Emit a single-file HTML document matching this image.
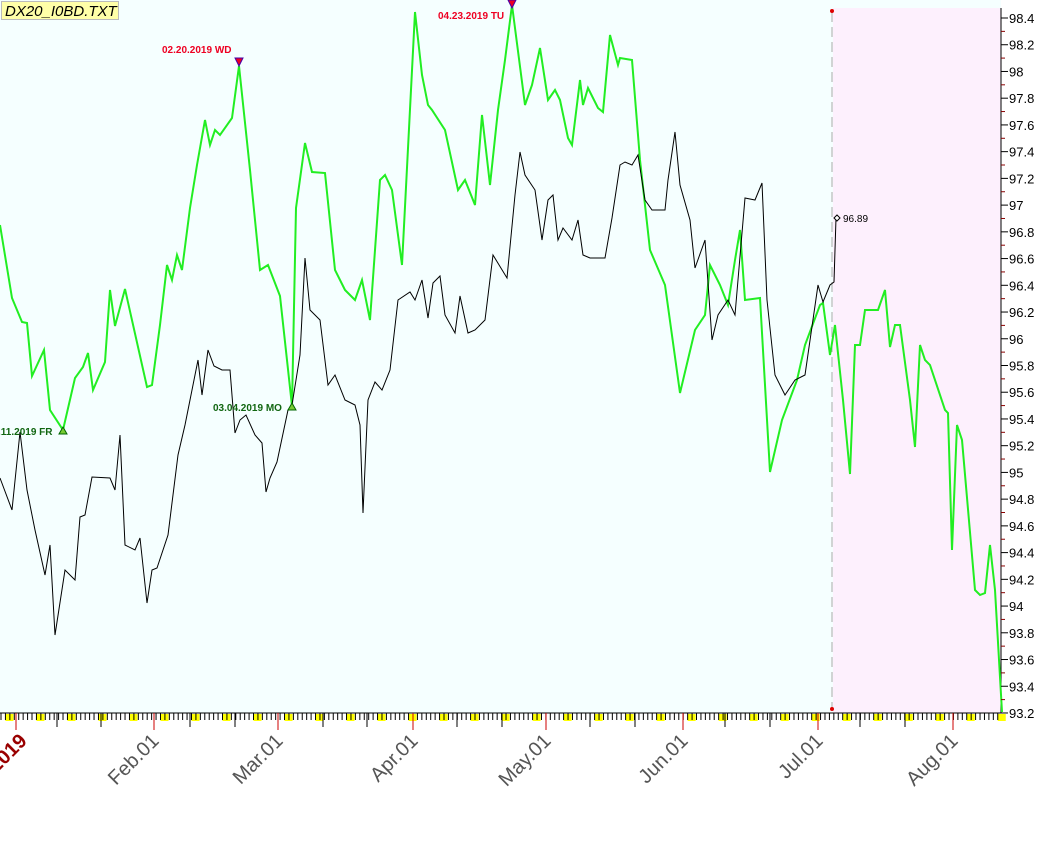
<!DOCTYPE html>
<html><head><meta charset="utf-8"><style>
html,body{margin:0;padding:0;background:#fff;}
svg{display:block;font-family:"Liberation Sans",sans-serif;}
</style></head><body>
<svg id="s" width="1063" height="849" xmlns="http://www.w3.org/2000/svg">
<rect x="0" y="0" width="1001" height="713" fill="#f5ffff"/>
<rect x="833" y="8" width="168" height="705" fill="#fdf0fd"/>
<line x1="832" y1="12" x2="832" y2="708" stroke="#aaa" stroke-dasharray="10,5"/>
<circle cx="832" cy="11" r="2" fill="#d00"/><circle cx="832" cy="709" r="2" fill="#d00"/>
<line x1="1001" y1="8" x2="1001" y2="713" stroke="#000"/>
<line x1="0" y1="713" x2="1001" y2="713" stroke="#000"/>
<g id="ticks"></g>
<polyline fill="none" stroke="#22ee22" stroke-width="2" points="0,225 12,298 22,322 27,323 32,376 44,350 50,410 63,430 75,378 83,367 88,353 93,390 105,362 110,290 115,326 125,289 147,387 152,385 160,325 167,265 172,280 177,255 182,270 190,208 197,165 205,120 210,145 215,130 220,135 232,118 239,66 250,170 260,270 268,265 280,296 292,406 296,208 305,143 312,172 325,173 335,270 345,290 355,300 362,280 370,320 380,180 385,175 392,190 402,265 415,12 422,75 428,105 432,110 445,130 458,190 465,180 475,205 482,115 490,185 498,110 505,60 512,5 525,105 532,85 540,48 548,100 555,90 560,100 568,138 572,145 580,80 583,105 588,88 598,108 603,112 610,35 618,65 620,58 632,60 640,160 650,250 665,285 680,393 695,330 705,315 710,265 720,285 728,305 735,260 740,230 745,300 760,298 770,472 782,420 797,380 805,345 820,305 823,303 830,355 835,325 843,400 850,474 855,345 860,345 865,310 878,310 885,290 890,347 895,325 900,325 910,400 915,447 920,345 925,360 930,365 945,410 948,413 952,550 957,425 962,440 975,590 980,595 985,593 990,545 995,590 1002,712"/>
<polyline fill="none" stroke="#000" stroke-width="1" points="0,478 12,510 20,432 27,490 35,530 45,575 50,545 55,635 65,570 75,580 80,517 85,515 92,477 110,478 115,490 120,435 125,545 135,550 140,538 147,603 152,570 157,568 168,535 178,455 185,425 198,360 202,395 208,350 214,366 222,370 230,370 235,433 240,420 246,415 255,435 262,443 266,492 270,478 277,462 288,410 292,405 300,355 305,258 310,310 320,320 328,385 335,375 345,400 355,405 360,425 363,513 368,400 375,382 382,390 390,370 398,300 410,292 415,300 422,280 428,318 433,283 440,276 445,315 455,333 460,296 468,333 475,330 485,320 493,255 507,278 515,195 520,152 525,175 535,190 542,240 548,200 553,195 558,240 563,228 572,240 578,220 583,255 590,258 605,258 612,218 620,165 625,162 632,165 638,155 645,200 652,210 665,210 668,180 675,132 680,185 690,220 695,268 705,240 712,340 718,315 728,300 735,315 745,198 755,200 762,183 767,300 775,375 785,395 795,380 805,375 818,285 823,302 830,285 834,282 836,218"/>
<path d="M834,218 l3,-3 l3,3 l-3,3z" fill="#fff" stroke="#000"/>
<text x="843" y="222" font-size="10" fill="#000">96.89</text>
<path d="M59,434 l4,-7 l4,7z" fill="#7c3" stroke="#060"/>
<path d="M288,410 l4,-7 l4,7z" fill="#7c3" stroke="#060"/>
<path d="M235,58 l8,0 l-4,8z" fill="#e02" stroke="#40a"/>
<path d="M508,0 l8,0 l-4,8z" fill="#e02" stroke="#40a"/>
<g font-size="10" font-weight="bold">
<text x="162" y="53" fill="#e02">02.20.2019 WD</text>
<text x="438" y="19" fill="#e02">04.23.2019 TU</text>
<text x="213" y="411" fill="#161">03.04.2019 MO</text>
<text x="-2" y="435" fill="#161">.11.2019 FR</text>
</g>
<rect x="1.5" y="1.5" width="117" height="18" fill="#ffffa8" stroke="#bbb"/>
<text x="5" y="16" font-size="15" font-style="italic" fill="#000">DX20_I0BD.TXT</text>
<g id="yax" font-size="13" fill="#000"></g>
<g id="mon" font-size="20" fill="#555"></g>
</svg>
<script>
var ns="http://www.w3.org/2000/svg",s=document.getElementById("s");
function el(t,a,p,txt){var e=document.createElementNS(ns,t);for(var k in a)e.setAttribute(k,a[k]);if(txt)e.textContent=txt;(p||s).appendChild(e);return e;}
var tk=document.getElementById("ticks");
var d=4.43;
for(var i=0;i<226;i++){var x=1+i*d;if(x>1000)break;
 if(i%7==1) el("rect",{x:x,y:714,width:8,height:7,fill:"#ff0"},tk);
}
for(var i=0;i<226;i++){var x=1+i*d;if(x>1000)break;
 el("line",{x1:x,y1:713,x2:x,y2:720,stroke:"#000"},tk);}
var maj=[57,101,190,235,323,367,457,502,590,635,725,770,860,905];
maj.forEach(function(x){el("line",{x1:x,y1:713,x2:x,y2:727,stroke:"#000"},tk);});
var mx=[16,154,278,413,546,683,818,953];
mx.forEach(function(x){el("line",{x1:x,y1:713,x2:x,y2:730,stroke:"#c00"},tk);});
var y=document.getElementById("yax");
for(var v=0;v<=26;v++){var val=98.4-v*0.2,yy=18+v*26.73;
 el("line",{x1:1001,y1:yy,x2:1008,y2:yy,stroke:"#000"},y);
 if(v<26) el("line",{x1:1001,y1:yy+13.36,x2:1005,y2:yy+13.36,stroke:"#800"},y);
 var t=(Math.round(val*10)/10).toString();
 el("text",{x:1009,y:yy+5},y,t);}
var m=document.getElementById("mon");
var L=[["2019",28,"#900",1],["Feb.01",160],["Mar.01",284],["Apr.01",419],["May.01",552],["Jun.01",689],["Jul.01",824],["Aug.01",959]];
L.forEach(function(a){var t=el("text",{x:a[1],y:742,"text-anchor":"end",transform:"rotate(-45 "+a[1]+" 742)"},m,a[0]);
 if(a[2]){t.setAttribute("fill",a[2]);t.setAttribute("font-weight","bold");}});
</script>
</body></html>
